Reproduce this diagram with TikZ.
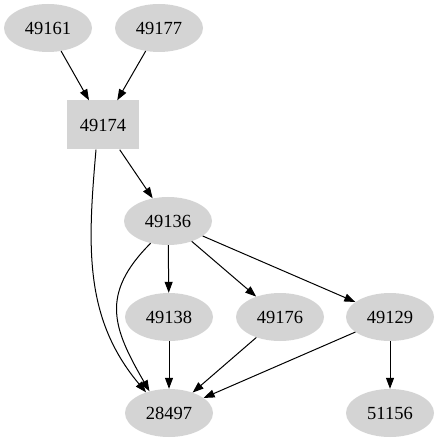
\documentclass[tikz,border=0pt]{standalone}
\usepackage{fontspec}
\setmainfont{Liberation Serif}
\usetikzlibrary{arrows.meta,shapes.geometric}
\tikzset{
  flowarrow/.style={-{Triangle[length=11pt,width=8pt]}, line width=1pt},
  oval/.style={ellipse, fill=black!17, minimum width=88pt, minimum height=48pt, inner sep=0pt},
  squarebox/.style={rectangle, fill=black!17, minimum width=72pt, minimum height=49pt, inner sep=0pt}
}

\begin{document}
\begin{tikzpicture}[x=1pt, y=1pt, every node/.style={font=\fontsize{18.5}{20}\selectfont}]
  \useasboundingbox (0,0) rectangle (439,-443);
  \node[oval] (n49161) at (48,-28) {49161};
  \node[oval] (n49177) at (159,-28) {49177};
  \node[squarebox] (n49174) at (103,-125) {49174};
  \node[oval] (n49136) at (168,-221) {49136};
  \node[oval] (n49138) at (169,-317) {49138};
  \node[oval] (n49176) at (280,-317) {49176};
  \node[oval] (n49129) at (390,-317) {49129};
  \node[oval] (n28497) at (169,-413) {28497};
  \node[oval] (n51156) at (390,-413) {51156};
  \draw[flowarrow] (n49161) -- (n49174);
  \draw[flowarrow] (n49177) -- (n49174);
  \draw[flowarrow] (n49174) -- (n49136);
  \draw[flowarrow] ([xshift=-7pt]n49174.south) to[out=265, in=130] (n28497.138);
  \draw[flowarrow] (n49136.232) to[out=225, in=120, looseness=1.25] (n28497.132);
  \draw[flowarrow] (n49136) -- (n49138);
  \draw[flowarrow] (n49136) -- (n49176);
  \draw[flowarrow] (n49136) -- (n49129);
  \draw[flowarrow] (n49138) -- (n28497);
  \draw[flowarrow] (n49176) -- (n28497);
  \draw[flowarrow] (n49129) -- (n28497);
  \draw[flowarrow] (n49129) -- (n51156);
\end{tikzpicture}
\end{document}
